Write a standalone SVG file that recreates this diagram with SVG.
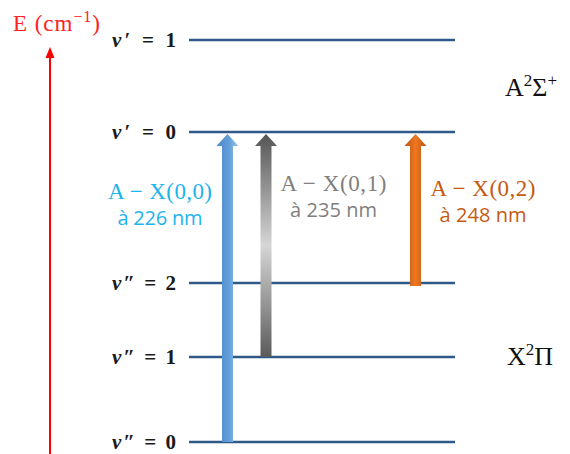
<svg xmlns="http://www.w3.org/2000/svg" width="570" height="454" viewBox="0 0 570 454">
<defs>
<linearGradient id="gBlue" x1="0" y1="0" x2="1" y2="0">
<stop offset="0" stop-color="#4A86C6"/><stop offset="0.6" stop-color="#64A0DA"/><stop offset="1" stop-color="#A0C8EE"/>
</linearGradient>
<linearGradient id="gGray" x1="0" y1="0" x2="0" y2="1">
<stop offset="0" stop-color="#555555"/><stop offset="0.5" stop-color="#D6D6D6"/><stop offset="1" stop-color="#5A5A5A"/>
</linearGradient>
<linearGradient id="gOrange" x1="0" y1="0" x2="1" y2="0">
<stop offset="0" stop-color="#BD5410"/><stop offset="0.5" stop-color="#EE7820"/><stop offset="1" stop-color="#BD5410"/>
</linearGradient>
</defs>
<style>
.lvl{stroke:#2D5A88;stroke-width:2.5;fill:none}
.vl{font-family:"Liberation Serif","DejaVu Serif",serif;font-weight:bold;font-size:21px;fill:#1a1a1a}
.vl .v{font-style:italic}
.m{font-family:"Liberation Serif","DejaVu Serif",serif;font-size:23px}
.s{font-family:"Open Sans","Noto Sans",sans-serif;font-size:20px}
.st{font-family:"Liberation Serif","DejaVu Serif",serif;font-size:26px;fill:#111}
</style>
<g id="axis">
<line x1="50" y1="454" x2="50" y2="56" stroke="#FF0000" stroke-width="2"/>
<polygon points="50,47 45.5,58 54.5,58" fill="#FF0000"/>
<text class="m" x="13" y="31" fill="#FF2020" textLength="87">E (cm<tspan dy="-9" font-size="16">−1</tspan><tspan dy="9">)</tspan></text>
</g>
<g id="levels">
<g id="v1p"><line class="lvl" x1="189" y1="40" x2="455" y2="40"/><text class="vl" x="112" y="47" textLength="64"><tspan class="v">v</tspan>′ = 1</text></g>
<g id="v0p"><line class="lvl" x1="189" y1="132" x2="455" y2="132"/><text class="vl" x="112" y="139" textLength="64"><tspan class="v">v</tspan>′ = 0</text></g>
<g id="v2pp"><line class="lvl" x1="189" y1="283" x2="455" y2="283"/><text class="vl" x="112" y="290" textLength="64"><tspan class="v">v</tspan>″ = 2</text></g>
<g id="v1pp"><line class="lvl" x1="189" y1="357" x2="455" y2="357"/><text class="vl" x="112" y="364" textLength="64"><tspan class="v">v</tspan>″ = 1</text></g>
<g id="v0pp"><line class="lvl" x1="189" y1="442" x2="455" y2="442"/><text class="vl" x="112" y="449" textLength="64"><tspan class="v">v</tspan>″ = 0</text></g>
</g>
<g id="states">
<text class="st" x="505" y="96">A<tspan dy="-10" font-size="17">2</tspan><tspan dy="10">Σ</tspan><tspan dy="-10" font-size="17">+</tspan></text>
<text class="st" x="507" y="365">X<tspan dy="-10" font-size="17">2</tspan><tspan dy="10">Π</tspan></text>
</g>
<g id="connectors">
<path id="a00" d="M227.5,134 L238.5,146 L233,146 L233,442 L222,442 L222,146 L216.5,146 Z" fill="url(#gBlue)"/>
<path id="a01" d="M266,134 L277,146 L271.5,146 L271.5,357 L260.5,357 L260.5,146 L255,146 Z" fill="url(#gGray)"/>
<path id="a02" d="M415.5,134 L426.5,146 L421,146 L421,286 L410,286 L410,146 L404.5,146 Z" fill="url(#gOrange)"/>
</g>
<g id="label00" fill="#1CB4EE" text-anchor="middle">
<text class="m" x="160" y="199" textLength="104">A − X(0,0)</text>
<text class="s" x="160" y="225" textLength="85">à 226 nm</text>
</g>
<g id="label01" fill="#7F7F7F" text-anchor="middle">
<text class="m" x="333.5" y="191" textLength="106">A − X(0,1)</text>
<text class="s" x="333.5" y="217" textLength="87">à 235 nm</text>
</g>
<g id="label02" fill="#C55A11" text-anchor="middle">
<text class="m" x="483" y="196" textLength="105">A − X(0,2)</text>
<text class="s" x="483" y="222" textLength="87">à 248 nm</text>
</g>
</svg>
